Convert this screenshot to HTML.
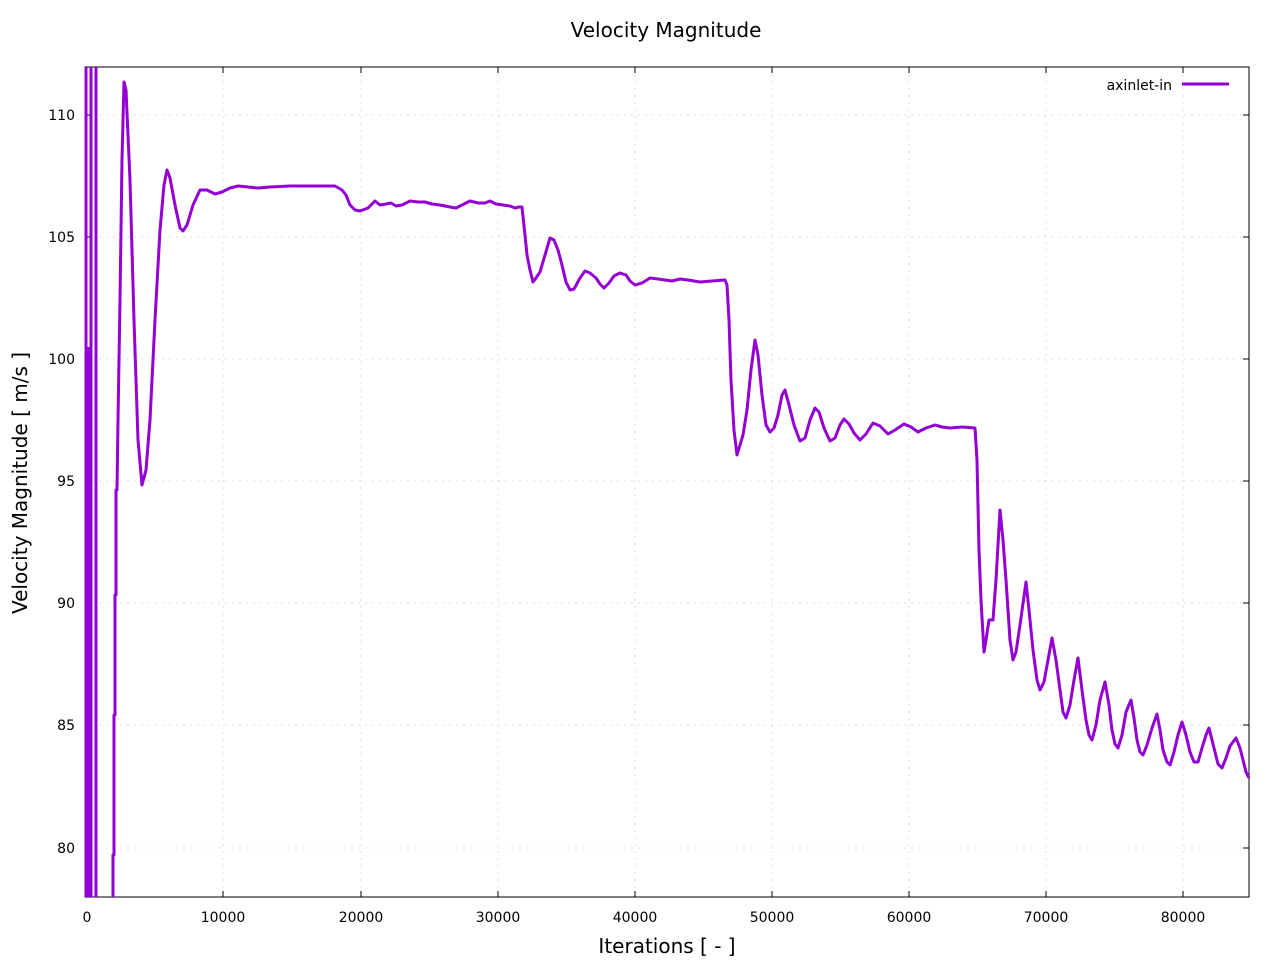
<!DOCTYPE html>
<html><head><meta charset="utf-8"><style>
body{margin:0;background:#fff}
svg text{font-family:"DejaVu Sans","Liberation Sans",sans-serif}
</style></head><body>
<svg width="1280" height="960" viewBox="0 0 1280 960" xmlns="http://www.w3.org/2000/svg">
<rect width="1280" height="960" fill="#fff"/>
<g stroke="#ddd" stroke-dasharray="2,5" stroke-width="1">
<line x1="223" y1="67" x2="223" y2="897"/><line x1="361" y1="67" x2="361" y2="897"/><line x1="498" y1="67" x2="498" y2="897"/><line x1="635" y1="67" x2="635" y2="897"/><line x1="772" y1="67" x2="772" y2="897"/><line x1="909" y1="67" x2="909" y2="897"/><line x1="1046" y1="67" x2="1046" y2="897"/><line x1="1183" y1="67" x2="1183" y2="897"/>
<line x1="85" y1="115" x2="1249" y2="115"/><line x1="85" y1="237" x2="1249" y2="237"/><line x1="85" y1="359" x2="1249" y2="359"/><line x1="85" y1="481" x2="1249" y2="481"/><line x1="85" y1="603" x2="1249" y2="603"/><line x1="85" y1="725" x2="1249" y2="725"/><line x1="85" y1="848" x2="1249" y2="848"/>
</g>
<rect x="85" y="67" width="1164" height="830" fill="none" stroke="#000" stroke-width="1"/>
<g stroke="#000" stroke-width="1">
<path d="M86 897v-6M223 897v-6M361 897v-6M498 897v-6M635 897v-6M772 897v-6M909 897v-6M1046 897v-6M1183 897v-6M86 67v6M223 67v6M361 67v6M498 67v6M635 67v6M772 67v6M909 67v6M1046 67v6M1183 67v6"/>
<path d="M85 115h6M85 237h6M85 359h6M85 481h6M85 603h6M85 725h6M85 848h6M1249 115h-6M1249 237h-6M1249 359h-6M1249 481h-6M1249 603h-6M1249 725h-6M1249 848h-6"/>
</g>
<g font-size="14" fill="#000" text-anchor="middle">
<text x="87" y="922">0</text><text x="223" y="922">10000</text><text x="361" y="922">20000</text><text x="498" y="922">30000</text><text x="635" y="922">40000</text><text x="772" y="922">50000</text><text x="909" y="922">60000</text><text x="1046" y="922">70000</text><text x="1183" y="922">80000</text>
</g>
<g font-size="14" fill="#000" text-anchor="end">
<text x="75" y="120">110</text><text x="75" y="242">105</text><text x="75" y="364">100</text><text x="75" y="486">95</text><text x="75" y="608">90</text><text x="75" y="730">85</text><text x="75" y="853">80</text>
</g>
<text x="666" y="37" font-size="20" text-anchor="middle">Velocity Magnitude</text>
<text x="667" y="953" font-size="20" text-anchor="middle">Iterations [ - ]</text>
<text transform="translate(27,483) rotate(-90)" font-size="20" text-anchor="middle">Velocity Magnitude [ m/s ]</text>
<text x="1172" y="90" font-size="14" text-anchor="end">axinlet-in</text>
<line x1="1182" y1="84" x2="1229" y2="84" stroke="#9400d3" stroke-width="3"/>
<g fill="none" stroke="#9400d3" stroke-width="3" stroke-linejoin="round">
<path d="M86 897V67M88 897V347M91 897V67M96 897V67"/>
<polyline points="113,897 113,855 114,855 114,715 115,715 115,595 116,595 116,490 117,490 118,420 120,300 122,160 124,82 126,90 130,180 134,320 138,440 142,485 146,470 150,420 155,320 160,230 164,185 167,170 170,178 175,205 180,228 183,231 187,225 193,205 200,190 207,190 215,194 222,192 230,188 238,186 248,187 258,188 270,187 290,186 320,186 335,186 342,190 346,195 350,205 355,210 360,211 368,208 375,201 380,205 386,204 391,203 396,206 402,205 410,201 418,202 425,202 432,204 440,205 450,207 456,208 462,205 470,201 478,203 485,203 490,201 496,204 503,205 510,206 515,208 519,207 522,207 525,235 527,255 530,270 533,282 536,278 540,272 545,255 550,238 554,240 558,250 562,265 566,282 570,290 574,289 580,278 585,271 590,273 596,278 600,284 604,288 609,283 614,276 620,273 626,275 630,281 635,285 642,283 650,278 658,279 665,280 672,281 680,279 688,280 700,282 712,281 725,280 727,285 729,320 731,380 734,430 737,455 740,445 743,435 747,410 751,370 755,340 758,355 762,395 766,425 770,432 774,428 778,415 782,395 785,390 789,405 794,425 800,441 805,438 810,420 815,408 819,412 824,428 830,441 835,438 840,425 844,419 849,424 854,433 860,440 866,434 873,423 880,426 888,434 895,430 904,424 911,427 918,432 926,428 935,425 942,427 950,428 962,427 975,428 977,460 979,550 981,600 984,652 986,640 989,620 993,620 996,580 1000,510 1003,540 1006,580 1010,640 1013,660 1016,652 1020,625 1026,582 1029,610 1033,650 1037,680 1040,690 1044,682 1048,660 1052,638 1056,660 1060,690 1063,712 1066,718 1070,705 1074,680 1078,658 1082,690 1086,720 1089,735 1092,740 1096,725 1100,700 1105,682 1109,705 1112,730 1115,744 1118,748 1122,735 1126,712 1131,700 1134,718 1137,740 1140,752 1143,755 1147,745 1152,728 1157,714 1160,730 1163,750 1167,762 1170,765 1174,752 1178,735 1182,722 1186,735 1190,752 1194,762 1198,762 1202,748 1206,735 1209,728 1212,740 1215,752 1218,764 1222,768 1226,758 1230,746 1236,738 1240,748 1243,760 1246,772 1249,778"/>
</g>
</svg>
</body></html>
